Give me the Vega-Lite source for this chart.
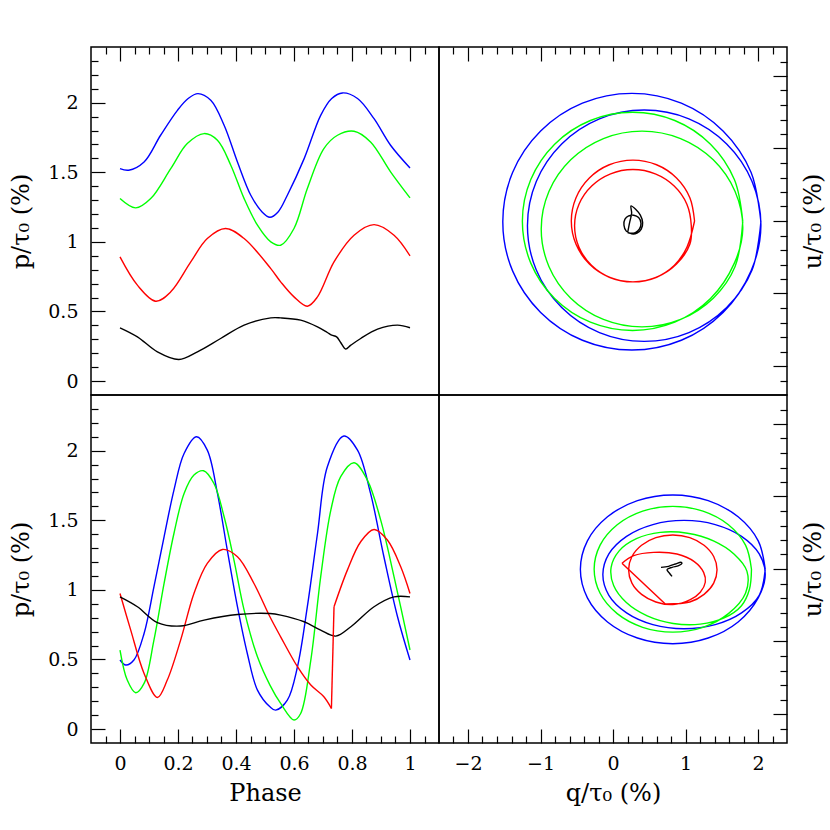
{
  "$schema": "https://vega.github.io/schema/vega-lite/v6.json",
  "padding": {"left": 9, "top": 45, "right": 0, "bottom": 5},
  "config": {
    "view": {"stroke": "black", "strokeWidth": 1.5},
    "axis": {"grid": false, "domain": false, "tickColor": "black", "tickWidth": 1.2, "labelFont": "DejaVu Serif", "labelFontSize": 19, "labelColor": "black", "titleFont": "DejaVu Serif", "titleFontSize": 24, "titleFontWeight": "normal", "titleColor": "black", "labelOverlap": false, "labelFlush": false, "labelBound": false, "format": "~g"}
  },
  "datasets": {
    "tl": [
      {"s":"blue","x":0,"y":1.526},{"s":"blue","x":0.03,"y":1.515},{"s":"blue","x":0.083,"y":1.574},{"s":"blue","x":0.14,"y":1.766},{"s":"blue","x":0.198,"y":1.945},{"s":"blue","x":0.235,"y":2.03},{"s":"blue","x":0.269,"y":2.065},{"s":"blue","x":0.313,"y":2.017},{"s":"blue","x":0.359,"y":1.838},{"s":"blue","x":0.405,"y":1.574},{"s":"blue","x":0.451,"y":1.335},{"s":"blue","x":0.49,"y":1.215},{"s":"blue","x":0.517,"y":1.177},{"s":"blue","x":0.545,"y":1.215},{"s":"blue","x":0.577,"y":1.335},{"s":"blue","x":0.635,"y":1.598},{"s":"blue","x":0.692,"y":1.909},{"s":"blue","x":0.73,"y":2.03},{"s":"blue","x":0.767,"y":2.07},{"s":"blue","x":0.819,"y":2.03},{"s":"blue","x":0.876,"y":1.885},{"s":"blue","x":0.933,"y":1.694},{"s":"blue","x":1,"y":1.531},
      {"s":"green","x":0,"y":1.311},{"s":"green","x":0.054,"y":1.244},{"s":"green","x":0.106,"y":1.311},{"s":"green","x":0.175,"y":1.526},{"s":"green","x":0.232,"y":1.706},{"s":"green","x":0.29,"y":1.778},{"s":"green","x":0.336,"y":1.73},{"s":"green","x":0.382,"y":1.551},{"s":"green","x":0.428,"y":1.311},{"s":"green","x":0.474,"y":1.12},{"s":"green","x":0.52,"y":1.0},{"s":"green","x":0.554,"y":0.976},{"s":"green","x":0.6,"y":1.096},{"s":"green","x":0.646,"y":1.383},{"s":"green","x":0.703,"y":1.67},{"s":"green","x":0.75,"y":1.766},{"s":"green","x":0.807,"y":1.795},{"s":"green","x":0.864,"y":1.718},{"s":"green","x":0.933,"y":1.503},{"s":"green","x":1,"y":1.316},
      {"s":"red","x":0,"y":0.892},{"s":"red","x":0.06,"y":0.689},{"s":"red","x":0.123,"y":0.574},{"s":"red","x":0.175,"y":0.641},{"s":"red","x":0.244,"y":0.856},{"s":"red","x":0.301,"y":1.024},{"s":"red","x":0.364,"y":1.096},{"s":"red","x":0.428,"y":1.024},{"s":"red","x":0.52,"y":0.808},{"s":"red","x":0.554,"y":0.713},{"s":"red","x":0.6,"y":0.605},{"s":"red","x":0.646,"y":0.538},{"s":"red","x":0.681,"y":0.605},{"s":"red","x":0.738,"y":0.856},{"s":"red","x":0.807,"y":1.048},{"s":"red","x":0.876,"y":1.124},{"s":"red","x":0.945,"y":1.048},{"s":"red","x":1,"y":0.9},
      {"s":"black","x":0,"y":0.383},{"s":"black","x":0.06,"y":0.318},{"s":"black","x":0.129,"y":0.21},{"s":"black","x":0.203,"y":0.155},{"s":"black","x":0.267,"y":0.21},{"s":"black","x":0.347,"y":0.306},{"s":"black","x":0.428,"y":0.402},{"s":"black","x":0.52,"y":0.454},{"s":"black","x":0.554,"y":0.454},{"s":"black","x":0.623,"y":0.438},{"s":"black","x":0.681,"y":0.39},{"s":"black","x":0.715,"y":0.349},{"s":"black","x":0.73,"y":0.33},{"s":"black","x":0.747,"y":0.318},{"s":"black","x":0.761,"y":0.277},{"s":"black","x":0.778,"y":0.23},{"s":"black","x":0.796,"y":0.258},{"s":"black","x":0.83,"y":0.306},{"s":"black","x":0.888,"y":0.373},{"s":"black","x":0.957,"y":0.402},{"s":"black","x":1,"y":0.383}
    ],
    "bl": [
      {"s":"blue","x":0,"y":0.496},{"s":"blue","x":0.02,"y":0.46},{"s":"blue","x":0.048,"y":0.496},{"s":"blue","x":0.083,"y":0.687},{"s":"blue","x":0.117,"y":1.022},{"s":"blue","x":0.152,"y":1.381},{"s":"blue","x":0.186,"y":1.717},{"s":"blue","x":0.221,"y":1.98},{"s":"blue","x":0.264,"y":2.1},{"s":"blue","x":0.301,"y":2.004},{"s":"blue","x":0.336,"y":1.693},{"s":"blue","x":0.37,"y":1.286},{"s":"blue","x":0.405,"y":0.879},{"s":"blue","x":0.439,"y":0.543},{"s":"blue","x":0.474,"y":0.28},{"s":"blue","x":0.517,"y":0.16},{"s":"blue","x":0.537,"y":0.136},{"s":"blue","x":0.577,"y":0.208},{"s":"blue","x":0.612,"y":0.448},{"s":"blue","x":0.646,"y":0.879},{"s":"blue","x":0.681,"y":1.405},{"s":"blue","x":0.715,"y":1.884},{"s":"blue","x":0.772,"y":2.105},{"s":"blue","x":0.819,"y":2.004},{"s":"blue","x":0.864,"y":1.693},{"s":"blue","x":0.91,"y":1.238},{"s":"blue","x":0.957,"y":0.807},{"s":"blue","x":1,"y":0.496},
      {"s":"green","x":0,"y":0.568},{"s":"green","x":0.025,"y":0.352},{"s":"green","x":0.054,"y":0.261},{"s":"green","x":0.083,"y":0.328},{"s":"green","x":0.117,"y":0.639},{"s":"green","x":0.152,"y":1.046},{"s":"green","x":0.186,"y":1.405},{"s":"green","x":0.221,"y":1.693},{"s":"green","x":0.255,"y":1.825},{"s":"green","x":0.288,"y":1.856},{"s":"green","x":0.324,"y":1.764},{"s":"green","x":0.359,"y":1.525},{"s":"green","x":0.393,"y":1.214},{"s":"green","x":0.428,"y":0.855},{"s":"green","x":0.474,"y":0.519},{"s":"green","x":0.517,"y":0.316},{"s":"green","x":0.554,"y":0.184},{"s":"green","x":0.6,"y":0.065},{"s":"green","x":0.623,"y":0.112},{"s":"green","x":0.658,"y":0.496},{"s":"green","x":0.692,"y":1.094},{"s":"green","x":0.727,"y":1.573},{"s":"green","x":0.761,"y":1.813},{"s":"green","x":0.807,"y":1.913},{"s":"green","x":0.853,"y":1.789},{"s":"green","x":0.899,"y":1.501},{"s":"green","x":0.945,"y":1.094},{"s":"green","x":1,"y":0.568},
      {"s":"red","x":0,"y":0.974},{"s":"red","x":0.037,"y":0.711},{"s":"red","x":0.083,"y":0.4},{"s":"red","x":0.129,"y":0.227},{"s":"red","x":0.163,"y":0.352},{"s":"red","x":0.209,"y":0.639},{"s":"red","x":0.255,"y":0.974},{"s":"red","x":0.301,"y":1.19},{"s":"red","x":0.353,"y":1.29},{"s":"red","x":0.405,"y":1.238},{"s":"red","x":0.462,"y":1.046},{"s":"red","x":0.517,"y":0.807},{"s":"red","x":0.554,"y":0.663},{"s":"red","x":0.612,"y":0.448},{"s":"red","x":0.658,"y":0.316},{"s":"red","x":0.703,"y":0.232},{"s":"red","x":0.729,"y":0.148},
      {"s":"red2","x":0.738,"y":0.879},{"s":"red2","x":0.784,"y":1.142},{"s":"red2","x":0.83,"y":1.346},{"s":"red2","x":0.876,"y":1.434},{"s":"red2","x":0.922,"y":1.358},{"s":"red2","x":0.968,"y":1.166},{"s":"red2","x":1,"y":0.974},
      {"s":"black","x":0,"y":0.95},{"s":"black","x":0.06,"y":0.879},{"s":"black","x":0.129,"y":0.765},{"s":"black","x":0.209,"y":0.74},{"s":"black","x":0.29,"y":0.783},{"s":"black","x":0.405,"y":0.823},{"s":"black","x":0.517,"y":0.83},{"s":"black","x":0.554,"y":0.819},{"s":"black","x":0.635,"y":0.771},{"s":"black","x":0.692,"y":0.711},{"s":"black","x":0.744,"y":0.668},{"s":"black","x":0.796,"y":0.735},{"s":"black","x":0.876,"y":0.879},{"s":"black","x":0.945,"y":0.95},{"s":"black","x":1,"y":0.95}
    ],
    "bljump": [
      {"x":0.729,"y":0.148,"x2":0.738,"y2":0.879}
    ],
    "tr": [
      {"s":"blue","i":1,"x":2.04,"y":-0.01},{"s":"blue","i":2,"x":1.905,"y":0.668},{"s":"blue","i":3,"x":1.518,"y":1.241},{"s":"blue","i":4,"x":0.942,"y":1.625},{"s":"blue","i":5,"x":0.26,"y":1.76},{"s":"blue","i":6,"x":-0.422,"y":1.625},{"s":"blue","i":7,"x":-0.998,"y":1.241},{"s":"blue","i":8,"x":-1.385,"y":0.668},{"s":"blue","i":9,"x":-1.52,"y":-0.01},{"s":"blue","i":10,"x":-1.385,"y":-0.688},{"s":"blue","i":11,"x":-0.998,"y":-1.261},{"s":"blue","i":12,"x":-0.422,"y":-1.645},{"s":"blue","i":13,"x":0.26,"y":-1.78},{"s":"blue","i":14,"x":0.942,"y":-1.645},{"s":"blue","i":15,"x":1.518,"y":-1.261},{"s":"blue","i":16,"x":1.905,"y":-0.688},
      {"s":"blue","i":17,"x":2.04,"y":-0.065},{"s":"blue","i":18,"x":1.918,"y":0.546},{"s":"blue","i":19,"x":1.568,"y":1.063},{"s":"blue","i":20,"x":1.047,"y":1.409},{"s":"blue","i":21,"x":0.43,"y":1.53},{"s":"blue","i":22,"x":-0.187,"y":1.409},{"s":"blue","i":23,"x":-0.708,"y":1.063},{"s":"blue","i":24,"x":-1.058,"y":0.546},{"s":"blue","i":25,"x":-1.18,"y":-0.065},{"s":"blue","i":26,"x":-1.058,"y":-0.676},{"s":"blue","i":27,"x":-0.708,"y":-1.193},{"s":"blue","i":28,"x":-0.187,"y":-1.539},{"s":"blue","i":29,"x":0.43,"y":-1.66},{"s":"blue","i":30,"x":1.047,"y":-1.539},{"s":"blue","i":31,"x":1.568,"y":-1.193},{"s":"blue","i":32,"x":1.918,"y":-0.676},{"s":"blue","i":33,"x":2.04,"y":-0.01},
      {"s":"green","i":1,"x":1.79,"y":-0.005},{"s":"green","i":2,"x":1.674,"y":0.571},{"s":"green","i":3,"x":1.345,"y":1.059},{"s":"green","i":4,"x":0.852,"y":1.386},{"s":"green","i":5,"x":0.27,"y":1.5},{"s":"green","i":6,"x":-0.312,"y":1.386},{"s":"green","i":7,"x":-0.805,"y":1.059},{"s":"green","i":8,"x":-1.134,"y":0.571},{"s":"green","i":9,"x":-1.25,"y":-0.005},{"s":"green","i":10,"x":-1.134,"y":-0.581},{"s":"green","i":11,"x":-0.805,"y":-1.069},{"s":"green","i":12,"x":-0.312,"y":-1.396},{"s":"green","i":13,"x":0.27,"y":-1.51},{"s":"green","i":14,"x":0.852,"y":-1.396},{"s":"green","i":15,"x":1.345,"y":-1.069},{"s":"green","i":16,"x":1.674,"y":-0.581},
      {"s":"green","i":17,"x":1.79,"y":-0.11},{"s":"green","i":18,"x":1.684,"y":0.407},{"s":"green","i":19,"x":1.383,"y":0.844},{"s":"green","i":20,"x":0.932,"y":1.137},{"s":"green","i":21,"x":0.4,"y":1.24},{"s":"green","i":22,"x":-0.132,"y":1.137},{"s":"green","i":23,"x":-0.583,"y":0.844},{"s":"green","i":24,"x":-0.884,"y":0.407},{"s":"green","i":25,"x":-0.99,"y":-0.11},{"s":"green","i":26,"x":-0.884,"y":-0.627},{"s":"green","i":27,"x":-0.583,"y":-1.064},{"s":"green","i":28,"x":-0.132,"y":-1.357},{"s":"green","i":29,"x":0.4,"y":-1.46},{"s":"green","i":30,"x":0.932,"y":-1.357},{"s":"green","i":31,"x":1.383,"y":-1.064},{"s":"green","i":32,"x":1.684,"y":-0.627},{"s":"green","i":33,"x":1.79,"y":-0.005},
      {"s":"red","i":1,"x":1.125,"y":0},{"s":"red","i":2,"x":1.06,"y":0.322},{"s":"red","i":3,"x":0.876,"y":0.594},{"s":"red","i":4,"x":0.601,"y":0.776},{"s":"red","i":5,"x":0.275,"y":0.84},{"s":"red","i":6,"x":-0.051,"y":0.776},{"s":"red","i":7,"x":-0.326,"y":0.594},{"s":"red","i":8,"x":-0.51,"y":0.322},{"s":"red","i":9,"x":-0.575,"y":0},{"s":"red","i":10,"x":-0.51,"y":-0.322},{"s":"red","i":11,"x":-0.326,"y":-0.594},{"s":"red","i":12,"x":-0.051,"y":-0.776},{"s":"red","i":13,"x":0.275,"y":-0.84},{"s":"red","i":14,"x":0.601,"y":-0.776},{"s":"red","i":15,"x":0.876,"y":-0.594},{"s":"red","i":16,"x":1.06,"y":-0.322},
      {"s":"red","i":17,"x":1.08,"y":-0.065},{"s":"red","i":18,"x":1.019,"y":0.232},{"s":"red","i":19,"x":0.844,"y":0.483},{"s":"red","i":20,"x":0.583,"y":0.651},{"s":"red","i":21,"x":0.275,"y":0.71},{"s":"red","i":22,"x":-0.033,"y":0.651},{"s":"red","i":23,"x":-0.294,"y":0.483},{"s":"red","i":24,"x":-0.469,"y":0.232},{"s":"red","i":25,"x":-0.53,"y":-0.065},{"s":"red","i":26,"x":-0.469,"y":-0.362},{"s":"red","i":27,"x":-0.294,"y":-0.613},{"s":"red","i":28,"x":-0.033,"y":-0.781},{"s":"red","i":29,"x":0.275,"y":-0.84},{"s":"red","i":30,"x":0.583,"y":-0.781},{"s":"red","i":31,"x":0.844,"y":-0.613},{"s":"red","i":32,"x":1.019,"y":-0.362},{"s":"red","i":33,"x":1.125,"y":0},
      {"s":"black","i":1,"x":0.202,"y":-0.159},{"s":"black","i":2,"x":0.229,"y":-0.021},{"s":"black","i":3,"x":0.257,"y":0.108},{"s":"black","i":4,"x":0.248,"y":0.209},{"s":"black","i":5,"x":0.312,"y":0.163},{"s":"black","i":6,"x":0.377,"y":0.08},{"s":"black","i":7,"x":0.409,"y":-0.021},{"s":"black","i":8,"x":0.39,"y":-0.113},{"s":"black","i":9,"x":0.331,"y":-0.168},{"s":"black","i":10,"x":0.257,"y":-0.177},{"s":"black","i":11,"x":0.183,"y":-0.14},{"s":"black","i":12,"x":0.151,"y":-0.057},{"s":"black","i":13,"x":0.165,"y":0.025},{"s":"black","i":14,"x":0.216,"y":0.071},{"s":"black","i":15,"x":0.285,"y":0.08},{"s":"black","i":16,"x":0.353,"y":0.048},{"s":"black","i":17,"x":0.386,"y":-0.03},{"s":"black","i":18,"x":0.363,"y":-0.113},{"s":"black","i":19,"x":0.308,"y":-0.159},{"s":"black","i":20,"x":0.239,"y":-0.168},{"s":"black","i":21,"x":0.202,"y":-0.159}
    ],
    "br": [
      {"s":"blue","i":1,"x":2.1,"y":-0.005},{"s":"blue","i":2,"x":2.003,"y":0.388},{"s":"blue","i":3,"x":1.726,"y":0.72},{"s":"blue","i":4,"x":1.313,"y":0.942},{"s":"blue","i":5,"x":0.825,"y":1.02},{"s":"blue","i":6,"x":0.337,"y":0.942},{"s":"blue","i":7,"x":-0.076,"y":0.72},{"s":"blue","i":8,"x":-0.353,"y":0.388},{"s":"blue","i":9,"x":-0.45,"y":-0.005},{"s":"blue","i":10,"x":-0.353,"y":-0.398},{"s":"blue","i":11,"x":-0.076,"y":-0.73},{"s":"blue","i":12,"x":0.337,"y":-0.952},{"s":"blue","i":13,"x":0.825,"y":-1.03},{"s":"blue","i":14,"x":1.313,"y":-0.952},{"s":"blue","i":15,"x":1.726,"y":-0.73},{"s":"blue","i":16,"x":2.003,"y":-0.398},
      {"s":"blue","i":17,"x":2.1,"y":-0.077},{"s":"blue","i":18,"x":2.017,"y":0.209},{"s":"blue","i":19,"x":1.773,"y":0.451},{"s":"blue","i":20,"x":1.41,"y":0.613},{"s":"blue","i":21,"x":0.98,"y":0.67},{"s":"blue","i":22,"x":0.55,"y":0.613},{"s":"blue","i":23,"x":0.187,"y":0.451},{"s":"blue","i":24,"x":-0.057,"y":0.209},{"s":"blue","i":25,"x":-0.14,"y":-0.077},{"s":"blue","i":26,"x":-0.057,"y":-0.363},{"s":"blue","i":27,"x":0.187,"y":-0.605},{"s":"blue","i":28,"x":0.55,"y":-0.767},{"s":"blue","i":29,"x":0.98,"y":-0.824},{"s":"blue","i":30,"x":1.41,"y":-0.767},{"s":"blue","i":31,"x":1.773,"y":-0.605},{"s":"blue","i":32,"x":2.017,"y":-0.363},{"s":"blue","i":33,"x":2.1,"y":-0.005},
      {"s":"green","i":1,"x":1.91,"y":-0.003},{"s":"green","i":2,"x":1.828,"y":0.329},{"s":"green","i":3,"x":1.592,"y":0.61},{"s":"green","i":4,"x":1.241,"y":0.798},{"s":"green","i":5,"x":0.825,"y":0.864},{"s":"green","i":6,"x":0.409,"y":0.798},{"s":"green","i":7,"x":0.058,"y":0.61},{"s":"green","i":8,"x":-0.178,"y":0.329},{"s":"green","i":9,"x":-0.26,"y":-0.003},{"s":"green","i":10,"x":-0.178,"y":-0.335},{"s":"green","i":11,"x":0.058,"y":-0.616},{"s":"green","i":12,"x":0.409,"y":-0.804},{"s":"green","i":13,"x":0.825,"y":-0.87},{"s":"green","i":14,"x":1.241,"y":-0.804},{"s":"green","i":15,"x":1.592,"y":-0.616},{"s":"green","i":16,"x":1.828,"y":-0.335},
      {"s":"green","i":17,"x":1.847,"y":-0.029},{"s":"green","i":18,"x":1.672,"y":0.205},{"s":"green","i":19,"x":1.385,"y":0.389},{"s":"green","i":20,"x":1.027,"y":0.494},{"s":"green","i":21,"x":0.654,"y":0.505},{"s":"green","i":22,"x":0.323,"y":0.418},{"s":"green","i":23,"x":0.085,"y":0.25},{"s":"green","i":24,"x":-0.026,"y":0.022},{"s":"green","i":25,"x":0.009,"y":-0.228},{"s":"green","i":26,"x":0.184,"y":-0.462},{"s":"green","i":27,"x":0.472,"y":-0.646},{"s":"green","i":28,"x":0.83,"y":-0.751},{"s":"green","i":29,"x":1.203,"y":-0.761},{"s":"green","i":30,"x":1.533,"y":-0.675},{"s":"green","i":31,"x":1.772,"y":-0.506},{"s":"green","i":32,"x":1.882,"y":-0.279},{"s":"green","i":33,"x":1.91,"y":-0.003},
      {"s":"red","i":1,"x":0.721,"y":-0.482},{"s":"red","i":2,"x":1.059,"y":-0.455},{"s":"red","i":3,"x":1.256,"y":-0.35},{"s":"red","i":4,"x":1.389,"y":-0.195},{"s":"red","i":5,"x":1.435,"y":-0.011},{"s":"red","i":6,"x":1.389,"y":0.173},{"s":"red","i":7,"x":1.256,"y":0.328},{"s":"red","i":8,"x":1.059,"y":0.433},{"s":"red","i":9,"x":0.825,"y":0.469},{"s":"red","i":10,"x":0.591,"y":0.433},{"s":"red","i":11,"x":0.394,"y":0.328},{"s":"red","i":12,"x":0.261,"y":0.173},{"s":"red","i":13,"x":0.215,"y":-0.011},{"s":"red","i":14,"x":0.261,"y":-0.195},{"s":"red","i":15,"x":0.394,"y":-0.35},{"s":"red","i":16,"x":0.591,"y":-0.455},{"s":"red","i":17,"x":0.825,"y":-0.491},{"s":"red","i":18,"x":1.066,"y":-0.423},{"s":"red","i":19,"x":1.204,"y":-0.321},{"s":"red","i":20,"x":1.273,"y":-0.183},{"s":"red","i":21,"x":1.25,"y":-0.046},{"s":"red","i":22,"x":1.121,"y":0.102},{"s":"red","i":23,"x":0.882,"y":0.207},{"s":"red","i":24,"x":0.56,"y":0.23},{"s":"red","i":25,"x":0.285,"y":0.184},{"s":"red","i":26,"x":0.124,"y":0.079},
      {"s":"black","i":1,"x":0.662,"y":0.023},{"s":"black","i":2,"x":0.767,"y":0.037},{"s":"black","i":3,"x":0.859,"y":0.069},{"s":"black","i":4,"x":0.942,"y":0.092},{"s":"black","i":5,"x":0.951,"y":0.079},{"s":"black","i":6,"x":0.905,"y":0.046},{"s":"black","i":7,"x":0.814,"y":0.023},{"s":"black","i":8,"x":0.745,"y":-0.009},{"s":"black","i":9,"x":0.777,"y":-0.055},{"s":"black","i":10,"x":0.814,"y":-0.101}
    ],
    "brjump": [
      {"x":0.124,"y":0.079,"x2":0.721,"y2":-0.482}
    ]
  },
  "concat": [
    {
      "width": 348, "height": 348,
      "data": {"name": "tl"},
      "mark": {"type": "line", "interpolate": "catmull-rom", "strokeWidth": 1.4},
      "encoding": {
        "x": {"field": "x", "type": "quantitative", "scale": {"domain": [-0.1, 1.1], "nice": false, "zero": false},
          "axis": {"orient": "top", "title": null, "labels": false,
            "values": [-0.05,0,0.05,0.1,0.15,0.2,0.25,0.3,0.35,0.4,0.45,0.5,0.55,0.6,0.65,0.7,0.75,0.8,0.85,0.9,0.95,1,1.05],
            "tickSize": {"condition": {"test": "abs(datum.value*5-round(datum.value*5))<0.001", "value": -14}, "value": -7}}},
        "y": {"field": "y", "type": "quantitative", "scale": {"domain": [-0.1, 2.4], "nice": false, "zero": false},
          "axis": {"orient": "left", "title": "p/τ₀ (%)", "titlePadding": 14,
            "values": [0,0.1,0.2,0.3,0.4,0.5,0.6,0.7,0.8,0.9,1,1.1,1.2,1.3,1.4,1.5,1.6,1.7,1.8,1.9,2,2.1,2.2,2.3],
            "labelExpr": "abs(datum.value*2-round(datum.value*2))<0.001 ? datum.label : ''",
            "labelPadding": {"condition": {"test": "abs(datum.value*2-round(datum.value*2))<0.001", "value": 27}, "value": 20},
            "tickSize": {"condition": {"test": "abs(datum.value*2-round(datum.value*2))<0.001", "value": -14}, "value": -7}}},
        "color": {"field": "s", "type": "nominal", "scale": {"domain": ["black","red","red2","green","blue"], "range": ["#000000","#ff0000","#ff0000","#00ff00","#0000ff"]}, "legend": null}
      }
    },
    {
      "width": 348, "height": 348,
      "data": {"name": "tr"},
      "mark": {"type": "line", "interpolate": "catmull-rom", "strokeWidth": 1.4},
      "encoding": {
        "x": {"field": "x", "type": "quantitative", "scale": {"domain": [-2.4, 2.4], "nice": false, "zero": false},
          "axis": {"orient": "top", "title": null, "labels": false,
            "values": [-2.2,-2,-1.8,-1.6,-1.4,-1.2,-1,-0.8,-0.6,-0.4,-0.2,0,0.2,0.4,0.6,0.8,1,1.2,1.4,1.6,1.8,2,2.2],
            "tickSize": {"condition": {"test": "abs(datum.value-round(datum.value))<0.001", "value": -14}, "value": -7}}},
        "y": {"field": "y", "type": "quantitative", "scale": {"domain": [-2.4, 2.4], "nice": false, "zero": false},
          "axis": {"orient": "right", "title": "u/τ₀ (%)", "titleAngle": 270, "titleBaseline": "top", "titlePadding": 13.5, "labels": false,
            "values": [-2.2,-2,-1.8,-1.6,-1.4,-1.2,-1,-0.8,-0.6,-0.4,-0.2,0,0.2,0.4,0.6,0.8,1,1.2,1.4,1.6,1.8,2,2.2],
            "tickSize": {"condition": {"test": "abs(datum.value-round(datum.value))<0.001", "value": -14}, "value": -7}}},
        "order": {"field": "i", "type": "quantitative"},
        "color": {"field": "s", "type": "nominal", "scale": {"domain": ["black","red","red2","green","blue"], "range": ["#000000","#ff0000","#ff0000","#00ff00","#0000ff"]}, "legend": null}
      }
    },
    {
      "width": 348, "height": 348,
      "encoding": {
        "x": {"field": "x", "type": "quantitative", "scale": {"domain": [-0.1, 1.1], "nice": false, "zero": false},
          "axis": {"orient": "bottom", "title": "Phase", "titlePadding": 8.5,
            "values": [-0.05,0,0.05,0.1,0.15,0.2,0.25,0.3,0.35,0.4,0.45,0.5,0.55,0.6,0.65,0.7,0.75,0.8,0.85,0.9,0.95,1,1.05],
            "labelExpr": "abs(datum.value*5-round(datum.value*5))<0.001 ? datum.label : ''",
            "labelPadding": {"condition": {"test": "abs(datum.value*5-round(datum.value*5))<0.001", "value": 25}, "value": 18},
            "tickSize": {"condition": {"test": "abs(datum.value*5-round(datum.value*5))<0.001", "value": -14}, "value": -7}}},
        "y": {"field": "y", "type": "quantitative", "scale": {"domain": [-0.1, 2.4], "nice": false, "zero": false},
          "axis": {"orient": "left", "title": "p/τ₀ (%)", "titlePadding": 14,
            "values": [0,0.1,0.2,0.3,0.4,0.5,0.6,0.7,0.8,0.9,1,1.1,1.2,1.3,1.4,1.5,1.6,1.7,1.8,1.9,2,2.1,2.2,2.3],
            "labelExpr": "abs(datum.value*2-round(datum.value*2))<0.001 ? datum.label : ''",
            "labelPadding": {"condition": {"test": "abs(datum.value*2-round(datum.value*2))<0.001", "value": 27}, "value": 20},
            "tickSize": {"condition": {"test": "abs(datum.value*2-round(datum.value*2))<0.001", "value": -14}, "value": -7}}}
      },
      "layer": [
        {
          "data": {"name": "bl"},
          "mark": {"type": "line", "interpolate": "catmull-rom", "strokeWidth": 1.4},
          "encoding": {
            "color": {"field": "s", "type": "nominal", "scale": {"domain": ["black","red","red2","green","blue"], "range": ["#000000","#ff0000","#ff0000","#00ff00","#0000ff"]}, "legend": null}
          }
        },
        {
          "data": {"name": "bljump"},
          "mark": {"type": "rule", "color": "#ff0000", "strokeWidth": 1.4},
          "encoding": {
            "x2": {"field": "x2"},
            "y2": {"field": "y2"}
          }
        }
      ]
    },
    {
      "width": 348, "height": 348,
      "encoding": {
        "x": {"field": "x", "type": "quantitative", "scale": {"domain": [-2.4, 2.4], "nice": false, "zero": false},
          "axis": {"orient": "bottom", "title": "q/τ₀ (%)", "titlePadding": 8.5,
            "values": [-2.2,-2,-1.8,-1.6,-1.4,-1.2,-1,-0.8,-0.6,-0.4,-0.2,0,0.2,0.4,0.6,0.8,1,1.2,1.4,1.6,1.8,2,2.2],
            "labelExpr": "abs(datum.value-round(datum.value))<0.001 ? datum.label : ''",
            "labelPadding": {"condition": {"test": "abs(datum.value-round(datum.value))<0.001", "value": 25}, "value": 18},
            "tickSize": {"condition": {"test": "abs(datum.value-round(datum.value))<0.001", "value": -14}, "value": -7}}},
        "y": {"field": "y", "type": "quantitative", "scale": {"domain": [-2.4, 2.4], "nice": false, "zero": false},
          "axis": {"orient": "right", "title": "u/τ₀ (%)", "titleAngle": 270, "titleBaseline": "top", "titlePadding": 13.5, "labels": false,
            "values": [-2.2,-2,-1.8,-1.6,-1.4,-1.2,-1,-0.8,-0.6,-0.4,-0.2,0,0.2,0.4,0.6,0.8,1,1.2,1.4,1.6,1.8,2,2.2],
            "tickSize": {"condition": {"test": "abs(datum.value-round(datum.value))<0.001", "value": -14}, "value": -7}}}
      },
      "layer": [
        {
          "data": {"name": "br"},
          "mark": {"type": "line", "interpolate": "catmull-rom", "strokeWidth": 1.4},
          "encoding": {
            "order": {"field": "i", "type": "quantitative"},
            "color": {"field": "s", "type": "nominal", "scale": {"domain": ["black","red","red2","green","blue"], "range": ["#000000","#ff0000","#ff0000","#00ff00","#0000ff"]}, "legend": null}
          }
        },
        {
          "data": {"name": "brjump"},
          "mark": {"type": "rule", "color": "#ff0000", "strokeWidth": 1.4},
          "encoding": {
            "x2": {"field": "x2"},
            "y2": {"field": "y2"}
          }
        }
      ]
    }
  ],
  "columns": 2,
  "spacing": 0,
  "bounds": "flush"
}
